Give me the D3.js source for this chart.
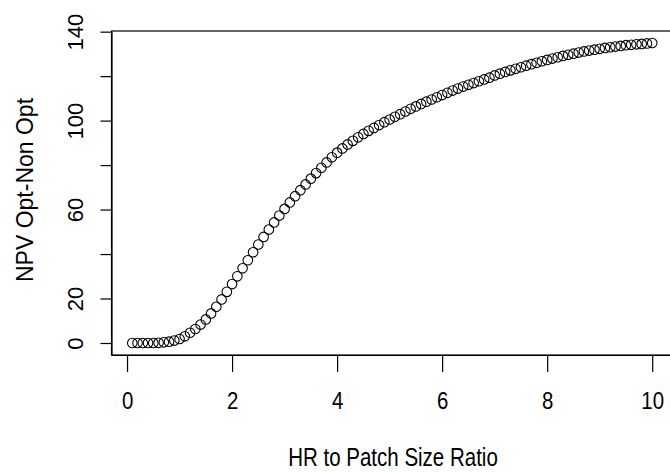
<!DOCTYPE html>
<html>
<head>
<meta charset="utf-8">
<script src="https://cdn.jsdelivr.net/npm/d3@7/dist/d3.min.js"></script>
<style>
html,body{margin:0;padding:0;background:#fff;}
svg{display:block;}
text{font-family:"Liberation Sans",Arial,sans-serif;fill:#000;}
</style>
</head>
<body>
<svg id="chart" width="670" height="472"></svg>
<script>
const xValues = [0.1,0.2,0.3,0.4,0.5,0.6,0.7,0.8,0.9,1.0,1.1,1.2,1.3,1.4,1.5,1.6,1.7,1.8,1.9,2.0,
2.1,2.2,2.3,2.4,2.5,2.6,2.7,2.8,2.9,3.0,3.1,3.2,3.3,3.4,3.5,3.6,3.7,3.8,3.9,4.0,
4.1,4.2,4.3,4.4,4.5,4.6,4.7,4.8,4.9,5.0,5.1,5.2,5.3,5.4,5.5,5.6,5.7,5.8,5.9,6.0,
6.1,6.2,6.3,6.4,6.5,6.6,6.7,6.8,6.9,7.0,7.1,7.2,7.3,7.4,7.5,7.6,7.7,7.8,7.9,8.0,
8.1,8.2,8.3,8.4,8.5,8.6,8.7,8.8,8.9,9.0,9.1,9.2,9.3,9.4,9.5,9.6,9.7,9.8,9.9,10.0];
const npvValues = [0,0,0,0,0,0.1,0.3,0.6,1.1,1.8,
3.0,4.6,6.3,8.3,10.6,13.3,16.3,19.6,23.0,26.5,
30.0,33.6,37.2,40.8,44.3,47.7,51.0,54.2,57.3,60.3,
63.2,66.0,68.7,71.3,73.9,76.4,78.8,81.2,83.5,85.6,
87.5,89.3,90.9,92.5,94.0,95.4,96.7,98.0,99.3,100.5,
101.7,102.9,104.1,105.3,106.4,107.5,108.5,109.5,110.5,111.5,
112.5,113.5,114.4,115.3,116.1,116.9,117.7,118.5,119.3,120.3,
121.1,121.9,122.6,123.3,124.0,124.7,125.4,126.0,126.7,127.3,
127.9,128.5,129.1,129.6,130.1,130.6,131.1,131.5,131.9,132.3,
132.7,133.0,133.3,133.6,133.9,134.1,134.3,134.5,134.7,134.9];
const xTicks = [0,2,4,6,8,10];
const yTicks = [0,20,40,60,80,100,120,140];
const yTickLabels = ["0","20","","60","","100","","140"];
const xTitle = "HR to Patch Size Ratio";
const yTitle = "NPV Opt-Non Opt";

const svg = d3.select("#chart");
svg.append("rect").attr("width",670).attr("height",472).attr("fill","#fff");

const plot = {left:111.5, right:673, top:31, bottom:355};

function extend(ext){ const r = ext[1]-ext[0]; return [ext[0]-0.04*r, ext[1]+0.04*r]; }
const x = d3.scaleLinear().domain(extend(d3.extent(xValues))).range([plot.left, plot.right]);
const y = d3.scaleLinear().domain(extend(d3.extent(npvValues))).range([plot.bottom, plot.top]);

// box
svg.append("rect").attr("x",plot.left).attr("y",plot.top)
  .attr("width",plot.right-plot.left).attr("height",plot.bottom-plot.top)
  .attr("fill","none").attr("stroke","#000").attr("stroke-width",1.2);

// x axis
const xAxis = d3.axisBottom(x).tickValues(xTicks).tickSize(17).tickSizeOuter(0).tickFormat(d3.format("d"));
const gx = svg.append("g").attr("transform",`translate(0,${plot.bottom})`).call(xAxis);
gx.select(".domain").attr("stroke","#000").attr("stroke-width",1.2);
gx.selectAll(".tick line").attr("stroke","#000").attr("stroke-width",1.2);
gx.selectAll(".tick text").attr("font-size",24).attr("y",0).attr("dy",null)
  .attr("transform","translate(0,54) scale(0.85,1)")
  .attr("font-family","Liberation Sans, Arial, sans-serif");

// y axis
const yAxis = d3.axisLeft(y).tickValues(yTicks).tickSize(11).tickSizeOuter(0).tickFormat((d,i)=>yTickLabels[i]);
const gy = svg.append("g").attr("transform",`translate(${plot.left},0)`).call(yAxis);
gy.select(".domain").attr("stroke","#000").attr("stroke-width",1.2);
gy.selectAll(".tick line").attr("stroke","#000").attr("stroke-width",1.2);
gy.selectAll(".tick text").attr("font-size",22).attr("x",0).attr("dy",null)
  .attr("text-anchor","middle")
  .attr("transform","translate(-29,0) rotate(-90)")
  .attr("font-family","Liberation Sans, Arial, sans-serif");

// points
svg.append("g").selectAll("circle").data(xValues).join("circle")
  .attr("cx",(d)=>x(d)).attr("cy",(d,i)=>y(npvValues[i])).attr("r",4.8)
  .attr("fill","none").attr("stroke","#000").attr("stroke-width",1.1);

// titles
svg.append("text").attr("text-anchor","middle").attr("font-size",25)
  .attr("transform",`translate(393,466) scale(0.82,1)`).text(xTitle);
svg.append("text").attr("text-anchor","middle").attr("font-size",23)
  .attr("transform",`translate(33,190) rotate(-90)`).text(yTitle);
</script>
</body>
</html>
